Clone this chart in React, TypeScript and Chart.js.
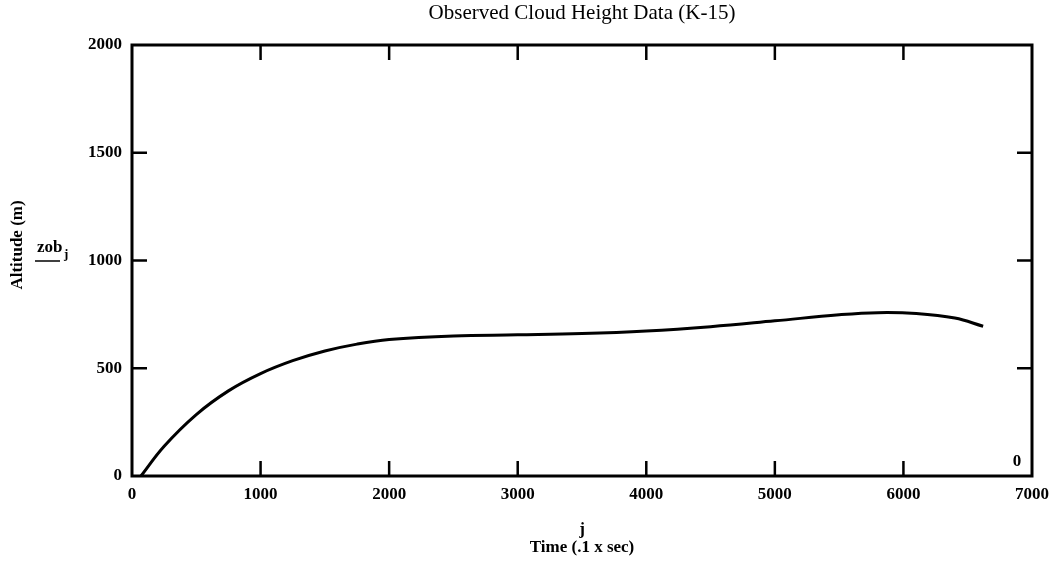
import React, { useEffect, useRef } from "react";
import { Chart, registerables } from "chart.js";

Chart.register(...registerables);

// Observed cloud height (K-15): time in tenths of a second vs altitude in metres
const timeTenthSec = [70, 250, 500, 750, 1000, 1250, 1500, 1750, 2000, 2500, 3000, 3500, 4000, 4500, 5000, 5500, 5800, 6100, 6400, 6620];
const altitudeM = [0, 138, 285, 395, 475, 535, 580, 612, 633, 650, 655, 661, 673, 693, 720, 748, 758, 754, 733, 695];

const xTicks = [0, 1000, 2000, 3000, 4000, 5000, 6000, 7000];
const yTicks = [0, 500, 1000, 1500, 2000];

const SERIF = "'Liberation Serif', 'Times New Roman', serif";

const framePlugin = {
  id: "mathcadFrame",
  afterDraw(chart: any) {
    const { ctx, chartArea } = chart;
    const { left, right, top, bottom } = chartArea;
    const xs = chart.scales.x;
    const ys = chart.scales.y;
    ctx.save();
    ctx.strokeStyle = "#000";
    ctx.lineWidth = 3;
    ctx.strokeRect(left, top, right - left, bottom - top);

    // inward tick marks on all four sides
    const tickLen = 15;
    ctx.lineWidth = 2.5;
    ctx.beginPath();
    xTicks.slice(1, -1).forEach((v) => {
      const px = xs.getPixelForValue(v);
      ctx.moveTo(px, bottom);
      ctx.lineTo(px, bottom - tickLen);
      ctx.moveTo(px, top);
      ctx.lineTo(px, top + tickLen);
    });
    yTicks.slice(1, -1).forEach((v) => {
      const py = ys.getPixelForValue(v);
      ctx.moveTo(left, py);
      ctx.lineTo(left + tickLen, py);
      ctx.moveTo(right, py);
      ctx.lineTo(right - tickLen, py);
    });
    ctx.stroke();

    const cx = (left + right) / 2;
    ctx.fillStyle = "#000";
    ctx.textAlign = "center";
    ctx.textBaseline = "middle";

    // title
    ctx.font = `21px ${SERIF}`;
    ctx.fillText("Observed Cloud Height Data (K-15)", cx, 13);

    // x-axis labels
    ctx.font = `bold 17px ${SERIF}`;
    ctx.fillText("j", cx, 530);
    ctx.fillText("Time (.1 x sec)", cx, 548);

    // marker at the lower right
    ctx.fillText("0", right - 15, bottom - 14);

    // y-axis title, rotated
    ctx.save();
    ctx.translate(18, 245);
    ctx.rotate(-Math.PI / 2);
    ctx.fillText("Altitude (m)", 0, 0);
    ctx.restore();

    // y expression placeholder
    ctx.textAlign = "left";
    ctx.textBaseline = "alphabetic";
    ctx.font = `bold 17px ${SERIF}`;
    ctx.fillText("zob", 37, 252);
    ctx.font = `bold 13px ${SERIF}`;
    ctx.fillText("j", 64, 258);
    ctx.lineWidth = 1.5;
    ctx.beginPath();
    ctx.moveTo(35, 261);
    ctx.lineTo(60, 261);
    ctx.stroke();

    ctx.restore();
  },
};

export default function App() {
  const canvasRef = useRef<HTMLCanvasElement | null>(null);

  useEffect(() => {
    document.body.style.margin = "0";
    const canvas = canvasRef.current;
    if (!canvas) return;
    const chart = new Chart(canvas, {
      type: "line",
      data: {
        datasets: [
          {
            data: timeTenthSec.map((t, i) => ({ x: t, y: altitudeM[i] })),
            borderColor: "#000",
            borderWidth: 3,
            pointRadius: 0,
            fill: false,
            tension: 0.4,
          },
        ],
      },
      options: {
        animation: false,
        responsive: true,
        maintainAspectRatio: false,
        layout: { padding: { top: 45, right: 28, left: 0, bottom: 0 } },
        plugins: {
          legend: { display: false },
          tooltip: { enabled: false },
          title: { display: false },
        },
        scales: {
          x: {
            type: "linear",
            min: 0,
            max: 7000,
            afterBuildTicks: (s: any) => {
              s.ticks = xTicks.map((v) => ({ value: v }));
            },
            afterFit: (s: any) => {
              s.height = 89;
            },
            ticks: {
              color: "#000",
              font: { family: SERIF, size: 17, weight: "bold" },
              padding: 8,
              maxRotation: 0,
              autoSkip: false,
              callback: (v: any) => String(v),
            },
            grid: { display: false, drawTicks: false },
            border: { display: false },
          },
          y: {
            min: 0,
            max: 2000,
            afterBuildTicks: (s: any) => {
              s.ticks = yTicks.map((v) => ({ value: v }));
            },
            afterFit: (s: any) => {
              s.width = 132;
            },
            ticks: {
              color: "#000",
              font: { family: SERIF, size: 17, weight: "bold" },
              padding: 10,
              autoSkip: false,
              callback: (v: any) => String(v),
            },
            grid: { display: false, drawTicks: false },
            border: { display: false },
          },
        },
      },
      plugins: [framePlugin],
    });
    return () => chart.destroy();
  }, []);

  return (
    <div style={{ position: "absolute", left: 0, top: 0, width: 1060, height: 565 }}>
      <canvas ref={canvasRef} />
    </div>
  );
}
